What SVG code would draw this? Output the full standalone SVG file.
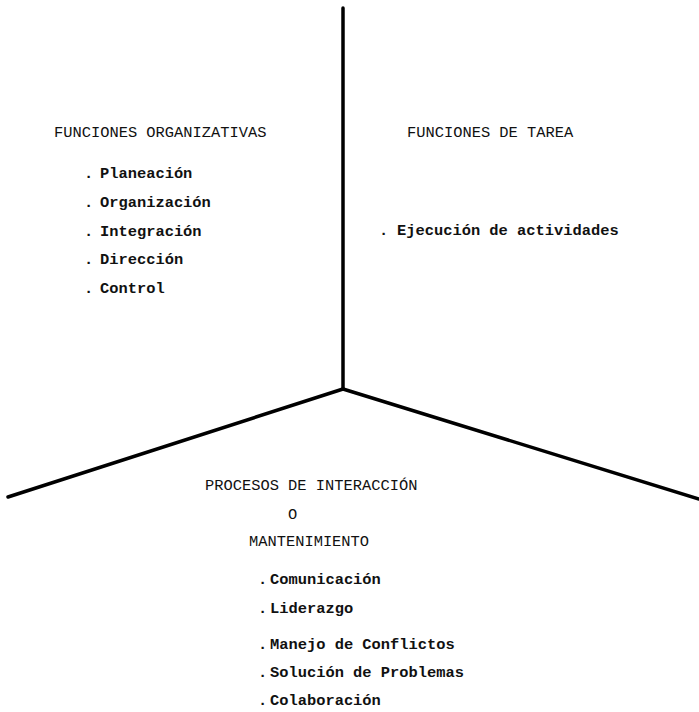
<svg xmlns="http://www.w3.org/2000/svg" width="699" height="712" viewBox="0 0 699 712">
  <style>
    .axis { stroke: #000; stroke-width: 3.5; stroke-linecap: round; fill: none; }
    text { font-family: "Liberation Mono", "DejaVu Sans Mono", monospace; font-size: 15.4px; fill: #111; }
    .head { font-weight: normal; }
    .item { font-weight: bold; }
  </style>
  <rect width="699" height="712" fill="#fff"/>

  <!-- three axes meeting at a common point -->
  <g id="connectors">
    <line class="axis" x1="343" y1="8" x2="343" y2="389"/>
    <line class="axis" x1="343" y1="389" x2="8" y2="497"/>
    <line class="axis" x1="343" y1="389" x2="699" y2="499"/>
  </g>

  <!-- upper left sector -->
  <g id="funciones-organizativas">
    <text class="head" x="54" y="137">FUNCIONES ORGANIZATIVAS</text>
    <text class="item" x="84" y="178">.</text><text class="item" x="100" y="178">Planeación</text>
    <text class="item" x="84" y="207">.</text><text class="item" x="100" y="207">Organización</text>
    <text class="item" x="84" y="236">.</text><text class="item" x="100" y="236">Integración</text>
    <text class="item" x="84" y="264">.</text><text class="item" x="100" y="264">Dirección</text>
    <text class="item" x="84" y="293">.</text><text class="item" x="100" y="293">Control</text>
  </g>

  <!-- upper right sector -->
  <g id="funciones-de-tarea">
    <text class="head" x="407" y="137">FUNCIONES DE TAREA</text>
    <text class="item" x="379" y="235">.</text><text class="item" x="397" y="235">Ejecución de actividades</text>
  </g>

  <!-- lower sector -->
  <g id="procesos-de-interaccion">
    <text class="head" x="205" y="490">PROCESOS DE INTERACCIÓN</text>
    <text class="head" x="288" y="519">O</text>
    <text class="head" x="249" y="546">MANTENIMIENTO</text>
    <text class="item" x="258" y="584">.</text><text class="item" x="270" y="584">Comunicación</text>
    <text class="item" x="258" y="613">.</text><text class="item" x="270" y="613">Liderazgo</text>
    <text class="item" x="258" y="649">.</text><text class="item" x="270" y="649">Manejo de Conflictos</text>
    <text class="item" x="258" y="677">.</text><text class="item" x="270" y="677">Solución de Problemas</text>
    <text class="item" x="258" y="705">.</text><text class="item" x="270" y="705">Colaboración</text>
  </g>
</svg>
